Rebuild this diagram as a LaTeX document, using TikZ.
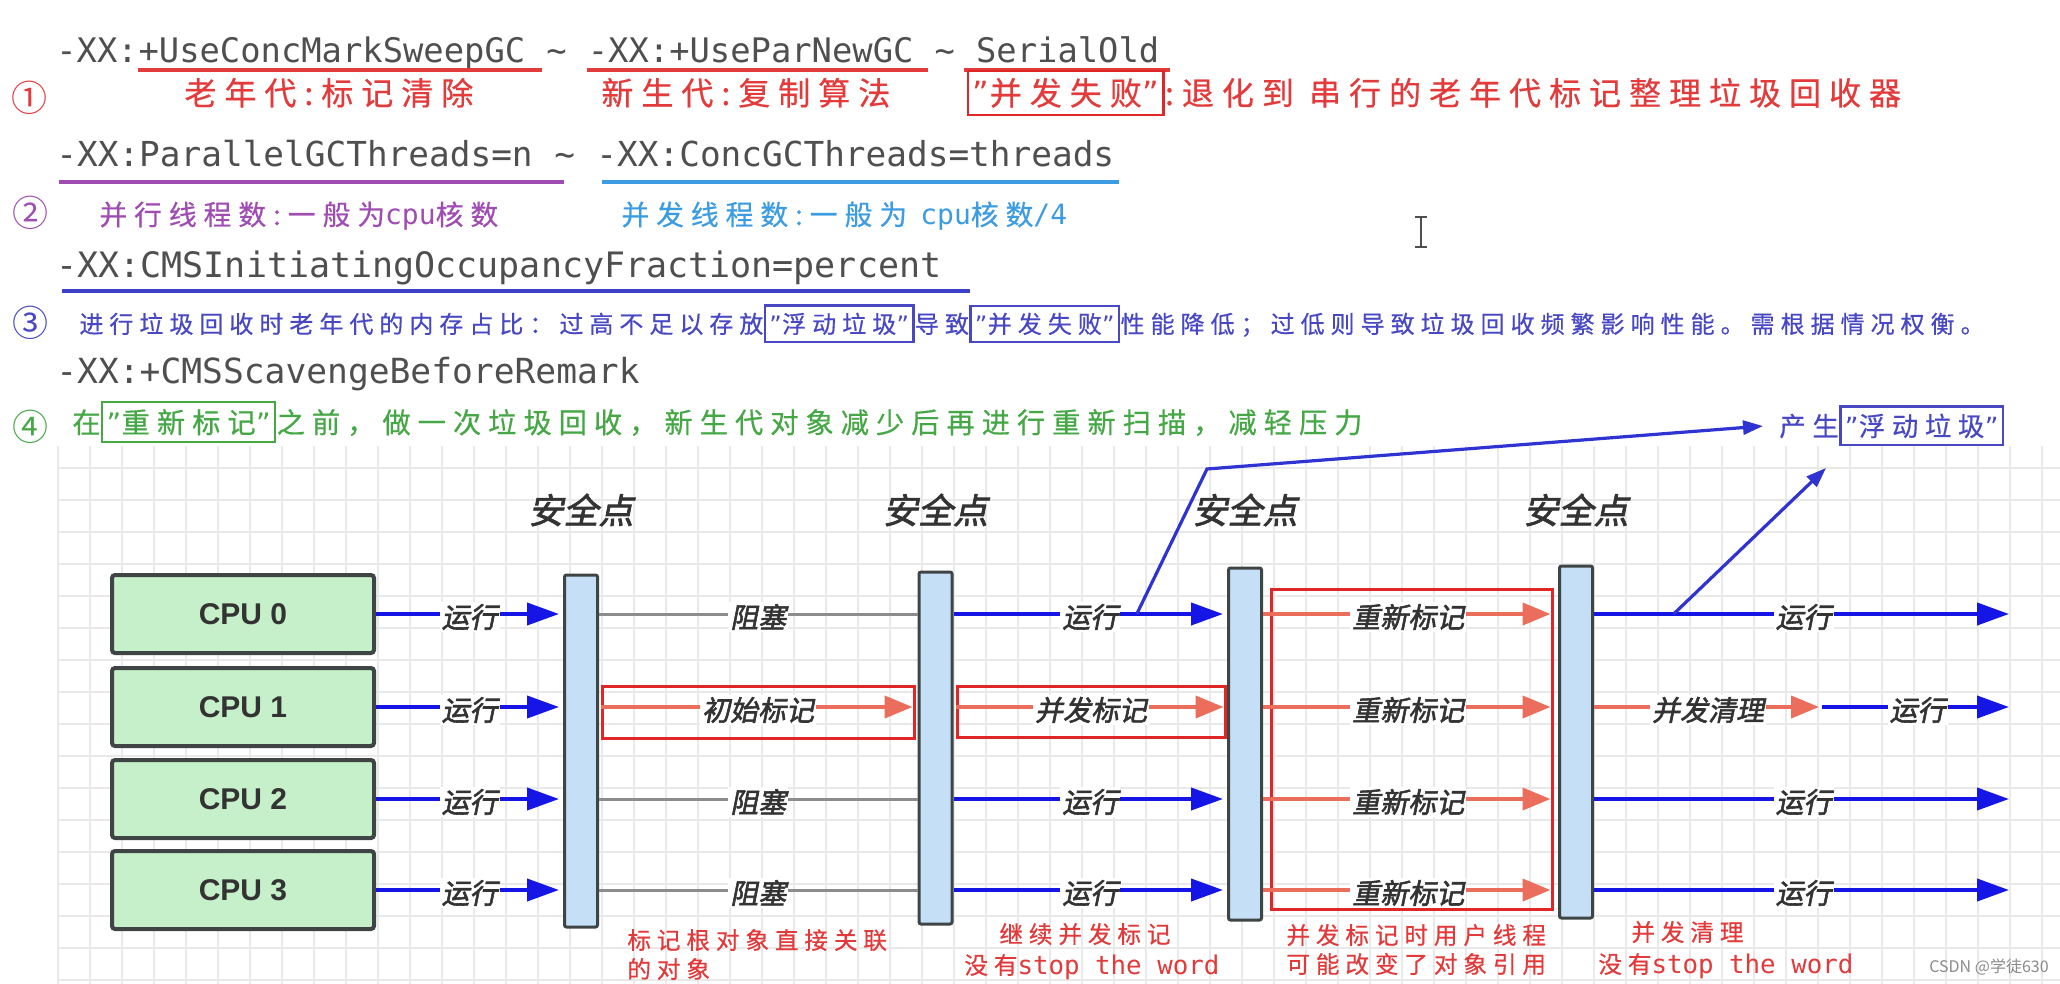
\documentclass[tikz,border=0pt]{standalone}
\usepackage{fontspec}
\usepackage{xcolor}
\usetikzlibrary{positioning, calc, arrows.meta}
\setmonofont{DejaVu Sans Mono}
\newfontfamily\cjk{Noto Sans CJK SC}
\newfontfamily\cjksp{Noto Sans CJK SC}[LetterSpace=25, FakeBold=0.5]
\newfontfamily\cjkdiag{Noto Sans CJK SC}[FakeSlant=0.2, FakeBold=2]
\newfontfamily\quotefont{DejaVu Sans}
\newfontfamily\cpufont{Liberation Sans}
\newcommand{\fsz}[1]{\fontsize{#1}{#1}\selectfont}
\newcommand{\qt}{\hbox to 0.55em{\hss\quotefont ”\hss}}
\newcommand{\lat}[1]{{\ttfamily\fsz{14}#1}}
\newcommand{\stw}{{\ttfamily\fsz{12.9}stop the word}}

\definecolor{optgray}{HTML}{4F4F4F}
\definecolor{oldred}{HTML}{E33B3B}
\definecolor{parpurple}{HTML}{A04DB3}
\definecolor{conblue}{HTML}{3C9CE2}
\definecolor{cmsblue}{HTML}{3B40C6}
\definecolor{notecolor}{HTML}{4848C4}
\definecolor{remarkgreen}{HTML}{45A745}
\definecolor{runblue}{HTML}{1515E5}
\definecolor{markred}{HTML}{EB6E5C}
\definecolor{blockgray}{HTML}{8C8C8C}
\definecolor{boxred}{HTML}{E02626}
\definecolor{cpugreen}{HTML}{C6F0C9}
\definecolor{spblue}{HTML}{C4DFF6}
\definecolor{framegray}{HTML}{3F4445}
\definecolor{gridgray}{HTML}{E9E9E9}
\definecolor{labgray}{HTML}{333333}
\definecolor{floatblue}{HTML}{2F33D2}
\definecolor{notered}{HTML}{E23A3A}
\definecolor{wmgray}{HTML}{8A8A8A}

\begin{document}
\begin{tikzpicture}[x=0.5pt, y=-0.5pt, >=latex,
  opt/.style={inner sep=0pt, anchor=base west, text=optgray, font=\ttfamily\fsz{#1}},
  cn/.style={inner sep=0pt, anchor=base west, font=\cjksp\fsz{#1}},
  num/.style={inner sep=0pt, font=\cjk\fsz{18}},
  wordbox/.style={draw=#1, line width=1.2pt, inner xsep=2pt, inner ysep=3.5pt},
  uline/.style={draw=#1, line width=2pt},
  gridline/.style={draw=gridgray, line width=0.6pt},
  cpubox/.style={draw=framegray, fill=cpugreen, line width=2pt, rounded corners=1.5pt,
    minimum width=131pt, minimum height=39pt, inner sep=0pt, text=labgray, font=\cpufont\bfseries\fsz{15}},
  spbar/.style={draw=framegray, fill=spblue, line width=1.5pt, rounded corners=1pt,
    minimum width=16.5pt, minimum height=176pt, inner sep=0pt},
  sptitle/.style={inner sep=0pt, text=labgray, font=\cjkdiag\fsz{17.5}},
  redbox/.style={draw=boxred, line width=1.5pt, inner sep=0pt},
  runarrow/.style={draw=runblue, line width=2pt, -{Triangle[length=16pt, width=11pt]}, shorten >=2pt},
  markarrow/.style={draw=markred, line width=2pt, -{Triangle[length=14pt, width=11pt]}, shorten >=1.5pt},
  blockline/.style={draw=blockgray, line width=1.5pt},
  floatarrow/.style={draw=floatblue, line width=1.6pt, -{Triangle[length=10pt, width=7pt]}},
  linelabel/.style={inner sep=1pt, fill=white, yshift=-1.5pt, text=labgray, font=\cjkdiag\fsz{14}},
  note/.style={inner sep=0pt, anchor=base west, text=notered, font=\cjksp\fsz{11.8}}]

\fill[white] (0,0) rectangle (2060,984);
\useasboundingbox (0,0) rectangle (2060,984);

% grid
\foreach \gx in {58,90,...,2060} \draw[gridline] (\gx,446) -- (\gx,984);
\foreach \gy in {468,500,...,984} \draw[gridline] (58,\gy) -- (2060,\gy);

% options
\node[opt=16.9] (xx1) at (56,63) {-XX:};
\node[opt=16.9] (cmsflag) at (xx1.base east) {+UseConcMarkSweepGC};
\node[opt=16.9] (tilde1) at (cmsflag.base east) {\ \textasciitilde\ \null};
\node[opt=16.9] (parnewflag) at (tilde1.base east) {-XX:+UseParNewGC};
\node[opt=16.9] (tilde2) at (parnewflag.base east) {\ \textasciitilde\ \null};
\node[opt=16.9] (serialold) at (tilde2.base east) {SerialOld};
\draw[uline=oldred] ([yshift=-3.5pt]cmsflag.base west) -- ([yshift=-3.5pt, xshift=8pt]cmsflag.base east);
\draw[uline=oldred] ([yshift=-3.5pt]parnewflag.base west) -- ([yshift=-3.5pt, xshift=7pt]parnewflag.base east);
\draw[uline=oldred] ([yshift=-3.5pt, xshift=-6pt]serialold.base west) -- ([yshift=-3.5pt, xshift=5pt]serialold.base east);

\node[num, text=oldred] (num1) at (29,98) {①};
\node[cn=16, text=oldred] (oldgen) at (184,105) {老年代:标记清除};
\node[cn=16, text=oldred] (newgen) at (601,105) {新生代:复制算法};
\node[cn=16, text=oldred, wordbox=boxred] (failbox) at (967,105) {\qt 并发失败\qt};
\node[cn=16, text=oldred] (degrade) at (failbox.base east) {:退化到 串行的老年代标记整理垃圾回收器};

\node[opt=17.2] (parthreads) at (56,167) {-XX:ParallelGCThreads=n};
\node[opt=17.2] (tilde3) at (parthreads.base east) {\ \textasciitilde\ \null};
\node[opt=17.2] (conthreads) at (tilde3.base east) {-XX:ConcGCThreads=threads};
\draw[uline=parpurple] ([yshift=-7.5pt, xshift=1.5pt]parthreads.base west) -- ([yshift=-7.5pt, xshift=-16pt]tilde3.base east);
\draw[uline=conblue] ([yshift=-7.5pt, xshift=3pt]conthreads.base west) -- ([yshift=-7.5pt, xshift=2pt]conthreads.base east);

\node[num, text=parpurple] (num2) at (30,213) {②};
\node[cn=13.9, text=parpurple] (parnote) at (99,225) {并行线程数:一般为\lat{cpu}核数};
\node[cn=13.9, text=conblue] (connote) at (621,225) {并发线程数:一般为 \lat{cpu}核数\lat{/4}};
\draw[optgray, line width=1pt] (1421,217) -- (1421,247) (1415,217) -- (1427,217) (1415,247) -- (1427,247);

\node[opt=17.5] (occupancy) at (56,278) {-XX:CMSInitiatingOccupancyFraction=percent};
\draw[uline=cmsblue] ([yshift=-6.5pt, xshift=3pt]occupancy.base west) -- ([yshift=-6.5pt, xshift=14pt]occupancy.base east);

\node[num, text=notecolor] (num3) at (30,323) {③};
\node[cn=12, text=notecolor] (occnote) at (79,333) {进行垃圾回收时老年代的内存占比：过高不足以存放};
\node[cn=12, text=notecolor, wordbox=notecolor] (floatword) at (occnote.base east) {\qt 浮动垃圾\qt};
\node[cn=12, text=notecolor] (occnote2) at (floatword.base east) {导致};
\node[cn=12, text=notecolor, wordbox=notecolor] (failword) at (occnote2.base east) {\qt 并发失败\qt};
\node[cn=12, text=notecolor] (occnote3) at (failword.base east) {性能降低；过低则导致垃圾回收频繁影响性能。需根据情况权衡。};

\node[opt=17.3] (scavenge) at (56,383) {-XX:+CMSScavengeBeforeRemark};

\node[num, text=remarkgreen] (num4) at (30,427) {④};
\node[cn=14.1, text=remarkgreen] (scavnote) at (72,433) {在};
\node[cn=14.1, text=remarkgreen, wordbox=remarkgreen] (remarkword) at (scavnote.base east) {\qt 重新标记\qt};
\node[cn=14.1, text=remarkgreen] (scavnote2) at (remarkword.base east) {之前，做一次垃圾回收，新生代对象减少后再进行重新扫描，减轻压力};

% cpus and safe points
\node[cpubox] (cpu0) at (243,614) {CPU 0};
\node[cpubox] (cpu1) at (243,707) {CPU 1};
\node[cpubox] (cpu2) at (243,799) {CPU 2};
\node[cpubox] (cpu3) at (243,890) {CPU 3};

\node[spbar] (sp1) at (581,751) {};
\node[spbar] (sp2) at (935.5,748) {};
\node[spbar] (sp3) at (1245,744) {};
\node[spbar] (sp4) at (1576,742) {};
\coordinate (titleline) at (0,510);
\node[sptitle] (sp1title) at (sp1 |- titleline) {安全点};
\node[sptitle] (sp2title) at (sp2 |- titleline) {安全点};
\node[sptitle] (sp3title) at (sp3 |- titleline) {安全点};
\node[sptitle] (sp4title) at (sp4 |- titleline) {安全点};

\node[redbox, minimum width=156pt, minimum height=26pt] (initbox) at (758,712) {};
\node[redbox, minimum width=134pt, minimum height=25.5pt] (concbox) at (1091,711.5) {};
\node[redbox, minimum width=140.5pt, minimum height=160pt] (remarkbox) at (1411.5,749) {};

\coordinate (rowend) at (2013,0);
\coordinate (sweepend) at (1822,0);

% cpu 0
\draw[runarrow] (cpu0.east) -- (sp1.west |- cpu0.east) node[midway, linelabel] {运行};
\draw[blockline] (sp1.east |- cpu0.east) -- (sp2.west |- cpu0.east) node[midway, linelabel] {阻塞};
\draw[runarrow] (sp2.east |- cpu0.east) -- (sp3.west |- cpu0.east) coordinate[pos=0.67] (fork1) node[midway, linelabel] {运行};
\draw[markarrow] (sp3.east |- cpu0.east) -- (remarkbox.east |- cpu0.east) node[midway, linelabel] {重新标记};
\draw[runarrow] (sp4.east |- cpu0.east) -- (rowend |- cpu0.east) coordinate[pos=0.19] (fork2) node[midway, linelabel] {运行};

% cpu 1
\draw[runarrow] (cpu1.east) -- (sp1.west |- cpu1.east) node[midway, linelabel] {运行};
\draw[markarrow] (initbox.west |- cpu1.east) -- (initbox.east |- cpu1.east) node[midway, linelabel] {初始标记};
\draw[markarrow] (concbox.west |- cpu1.east) -- (concbox.east |- cpu1.east) node[midway, linelabel] {并发标记};
\draw[markarrow] (sp3.east |- cpu1.east) -- (remarkbox.east |- cpu1.east) node[midway, linelabel] {重新标记};
\draw[markarrow] (sp4.east |- cpu1.east) -- (sweepend |- cpu1.east) node[midway, linelabel] {并发清理};
\draw[runarrow] (sweepend |- cpu1.east) -- (rowend |- cpu1.east) node[midway, linelabel] {运行};

% cpu 2
\draw[runarrow] (cpu2.east) -- (sp1.west |- cpu2.east) node[midway, linelabel] {运行};
\draw[blockline] (sp1.east |- cpu2.east) -- (sp2.west |- cpu2.east) node[midway, linelabel] {阻塞};
\draw[runarrow] (sp2.east |- cpu2.east) -- (sp3.west |- cpu2.east) node[midway, linelabel] {运行};
\draw[markarrow] (sp3.east |- cpu2.east) -- (remarkbox.east |- cpu2.east) node[midway, linelabel] {重新标记};
\draw[runarrow] (sp4.east |- cpu2.east) -- (rowend |- cpu2.east) node[midway, linelabel] {运行};

% cpu 3
\draw[runarrow] (cpu3.east) -- (sp1.west |- cpu3.east) node[midway, linelabel] {运行};
\draw[blockline] (sp1.east |- cpu3.east) -- (sp2.west |- cpu3.east) node[midway, linelabel] {阻塞};
\draw[runarrow] (sp2.east |- cpu3.east) -- (sp3.west |- cpu3.east) node[midway, linelabel] {运行};
\draw[markarrow] (sp3.east |- cpu3.east) -- (remarkbox.east |- cpu3.east) node[midway, linelabel] {重新标记};
\draw[runarrow] (sp4.east |- cpu3.east) -- (rowend |- cpu3.east) node[midway, linelabel] {运行};

% floating garbage
\node[cn=13.2, text=notecolor] (produce) at (1779,436) {产生};
\node[cn=13.2, text=notecolor, wordbox=notecolor] (floatword2) at (produce.base east) {\qt 浮动垃圾\qt};
\coordinate (bend1) at (1207,469);
\coordinate (floattip) at (1826,468);
\draw[floatarrow] (fork1) -- (bend1) -- ([xshift=-8pt]produce.west);
\draw[floatarrow] (fork2) -- (floattip);

% phase notes
\node[note] (initnote) at (627,949) {标记根对象直接关联};
\node[note] (initnote2) at (627,978) {的对象};
\node[note] (concnote) at (999,943) {继续并发标记};
\node[note] (concnote2) at (964,974) {没有\stw};
\node[note] (remarknote) at (1286,944) {并发标记时用户线程};
\node[note] (remarknote2) at (1286,973) {可能改变了对象引用};
\node[note] (sweepnote) at (1631,941) {并发清理};
\node[note] (sweepnote2) at (1598,973) {没有\stw};

\node[inner sep=0pt, text=wmgray, font=\cjk\fsz{8}] (watermark) at (1989,967) {CSDN @学徒630};

\end{tikzpicture}
\end{document}
